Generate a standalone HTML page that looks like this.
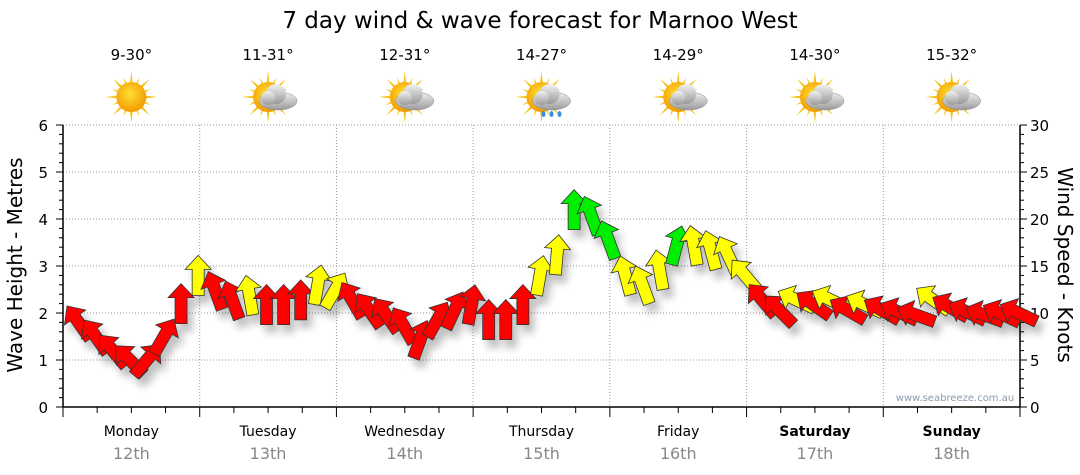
<!DOCTYPE html>
<html><head><meta charset="utf-8"><style>
body{margin:0;background:#fff;}
svg{display:block;font-family:"DejaVu Sans","Liberation Sans",sans-serif;}
</style></head><body>
<svg id="c" width="1080" height="475" viewBox="0 0 1080 475">
<defs>
<radialGradient id="sunG" cx="45%" cy="40%" r="60%"><stop offset="0" stop-color="#ffe033"/><stop offset="1" stop-color="#f29a00"/></radialGradient>
<linearGradient id="cloudG" x1="0" y1="0" x2="0" y2="1"><stop offset="0" stop-color="#f2f2f2"/><stop offset="1" stop-color="#9a9a9a"/></linearGradient>
<filter id="sh" x="-50%" y="-50%" width="200%" height="200%"><feGaussianBlur in="SourceAlpha" stdDeviation="4"/><feOffset dx="5" dy="8"/><feComponentTransfer><feFuncA type="linear" slope="0.25"/></feComponentTransfer><feMerge><feMergeNode/><feMergeNode in="SourceGraphic"/></feMerge></filter>
</defs>
<text x="540" y="28" font-size="23" text-anchor="middle" fill="#000">7 day wind &amp; wave forecast for Marnoo West</text>
<g id="grid"></g><g id="axes"></g><g id="icons"></g><g id="arrows" filter="url(#sh)"></g>
<text x="955" y="401" font-size="10" fill="#8a9ab0" text-anchor="middle">www.seabreeze.com.au</text>
<text transform="translate(22,265) rotate(-90)" font-size="20" text-anchor="middle">Wave Height - Metres</text>
<text transform="translate(1058,265) rotate(90)" font-size="20" text-anchor="middle">Wind Speed - Knots</text>
</svg>
<script>
const days=["Monday","Tuesday","Wednesday","Thursday","Friday","Saturday","Sunday"];
const dates=["12th","13th","14th","15th","16th","17th","18th"];
const temps=["9-30°","11-31°","12-31°","14-27°","14-29°","14-30°","15-32°"];
const icons=["sun","cloud","cloud","rain","cloud","cloud","cloud"];
const leftTicks=[0,1,2,3,4,5,6];
const rightTicks=[0,5,10,15,20,25,30];
const windKnots=[9,7.5,6,5,5,7.5,11,14,
12.4,11.4,11.9,10.9,10.9,11.4,13,12.4,
11.4,10.3,9.8,8.7,7.2,9.3,10.3,10.9,
9.3,9.3,10.9,14,16.2,21,20.4,17.8,
14,13,14.6,17.2,17.2,16.7,16.2,14,
11.4,10.3,11.4,10.9,11.4,10.3,10.9,10.3,
10.1,9.8,11.4,10.6,10.1,9.8,9.9,10.0];
const windDir=[-35,-35,-40,-45,40,30,0,0,
-20,-20,-10,0,0,0,10,30,
-30,-35,-35,-30,20,30,25,10,
0,0,0,10,5,0,-20,-20,
-15,-20,-10,15,-10,-15,-25,-40,
-40,-45,-65,-55,-65,-60,-65,-60,
-65,-70,-55,-60,-65,-70,-65,-65];
const windColor=["r","r","r","r","r","r","r","y",
"r","r","y","r","r","r","y","y",
"r","r","r","r","r","r","r","r",
"r","r","r","y","y","g","g","g",
"y","y","y","g","y","y","y","y",
"r","r","y","r","y","r","y","r",
"r","r","y","r","r","r","r","r"];
const NS="http://www.w3.org/2000/svg";
const X0=63,X1=1020,Y0=407,Y1=125,DAYW=(X1-X0)/7;
const xT=h=>X0+h*DAYW/24;
const yM=m=>Y0-(Y0-Y1)*m/6;
const yK=k=>Y0-(Y0-Y1)*k/30;
function mk(t,a,p){const e=document.createElementNS(NS,t);for(const k in a)e.setAttribute(k,a[k]);(p||document.getElementById('c')).appendChild(e);return e;}
const grid=document.getElementById('grid'),axes=document.getElementById('axes');
leftTicks.forEach(m=>{if(m>0){const l=mk('line',{x1:X0,x2:X1,y1:yM(m),y2:yM(m),stroke:'#999','stroke-dasharray':'1,2'},grid);}});
for(let d=1;d<7;d++){const l=mk('line',{x1:xT(d*24),x2:xT(d*24),y1:Y1,y2:Y0,stroke:'#999','stroke-dasharray':'1,2'},grid);}
mk('line',{x1:X0,x2:X0,y1:Y1,y2:Y0,stroke:'#000','stroke-width':1.5},axes);
mk('line',{x1:X1,x2:X1,y1:Y1,y2:Y0,stroke:'#000','stroke-width':1.5},axes);
mk('line',{x1:X0,x2:X1,y1:Y0,y2:Y0,stroke:'#000','stroke-width':1.5},axes);
for(let i=0;i<=30;i++){const y=yM(i/5);mk('line',{x1:X0-(i%5==0?7:4),x2:X0,y1:y,y2:y,stroke:'#000'},axes);}
for(let i=0;i<=30;i++){const y=yK(i);mk('line',{x1:X1,x2:X1+(i%5==0?7:4),y1:y,y2:y,stroke:'#000'},axes);}
leftTicks.forEach(m=>{const t=mk('text',{x:48,y:yM(m)+6,'font-size':15,'text-anchor':'end'},axes);t.textContent=m;});
rightTicks.forEach(k=>{const t=mk('text',{x:1030,y:yK(k)+6,'font-size':15},axes);t.textContent=k;});
for(let h=0;h<=168;h+=6){mk('line',{x1:xT(h),x2:xT(h),y1:Y0,y2:Y0+(h%24==0?10:6),stroke:'#000'},axes);}
const iconsG=document.getElementById('icons');
days.forEach((d,i)=>{const cx=xT(i*24+12);
const t=mk('text',{x:cx,y:436,'font-size':14,'text-anchor':'middle','font-weight':i>=5?'bold':'normal'},axes);t.textContent=d;
const t2=mk('text',{x:cx,y:459,'font-size':16,'text-anchor':'middle',fill:'#888'},axes);t2.textContent=dates[i];
const t3=mk('text',{x:cx,y:60,'font-size':15,'text-anchor':'middle'},iconsG);t3.textContent=temps[i];
const g=mk('g',{transform:`translate(${cx},97)`},iconsG);
for(let a=0;a<16;a++){const r=a%2?21:26;mk('polygon',{points:`-3,0 3,0 0,${-r}`,fill:'#f6c21a',transform:`rotate(${a*22.5})`},g);}
mk('circle',{r:15,fill:'url(#sunG)'},g);
if(icons[i]!="sun"){const cg=mk('g',{transform:'translate(10,0)'},g);
mk('ellipse',{cx:0,cy:4,rx:19,ry:9,fill:'url(#cloudG)',stroke:'#888','stroke-width':0.5},cg);
mk('circle',{cx:-2,cy:-3,r:10,fill:'url(#cloudG)'},cg);mk('circle',{cx:-10,cy:1,r:7,fill:'url(#cloudG)'},cg);
if(icons[i]=="rain"){[-8,0,8].forEach(dx=>mk('ellipse',{cx:dx,cy:17,rx:2,ry:3,fill:'#3a8fe0'},cg));}}
});
const colMap={r:'#ff0000',y:'#ffff00',g:'#00ee00'};
const arrowsG=document.getElementById('arrows');
windKnots.forEach((k,i)=>{const x=xT(i*3+1.5)+7,y=yK(k);
const p=mk('polygon',{points:'0,-20 13,-6 6,-6 6,20 -6,20 -6,-6 -13,-6',fill:colMap[windColor[i]],stroke:'#333','stroke-width':0.8,transform:`translate(${x},${y}) rotate(${windDir[i]})`},arrowsG);

});
</script>
</body></html>
